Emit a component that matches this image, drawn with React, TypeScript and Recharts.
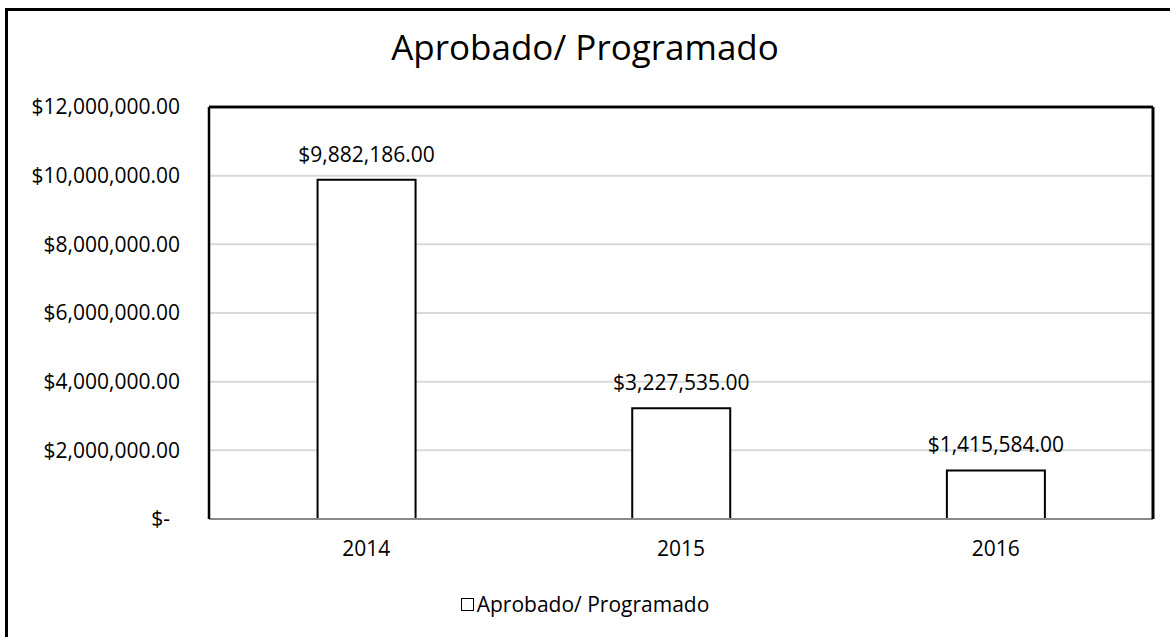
import { BarChart, Bar, Line, XAxis, YAxis, CartesianGrid, Legend, LabelList, ReferenceLine } from "recharts";

const years = ["2014", "2015", "2016"];
const approved = [9882186, 3227535, 1415584];
const yTicks = [0, 2000000, 4000000, 6000000, 8000000, 10000000, 12000000];
const yMax = 12000000;
const seriesName = "Aprobado/ Programado";
const chartTitle = "Aprobado/ Programado";

const data = years.map((year, i) => ({ year, value: approved[i] }));

const FONT = "'Open Sans', sans-serif";
const LABEL_SIZE = 21;

const money = (v: number) =>
  v.toLocaleString("en-US", { style: "currency", currency: "USD", minimumFractionDigits: 2 });

function YTick(props: any) {
  const { x, y, payload } = props;
  const isZero = payload.value === 0;
  return (
    <text
      x={isZero ? x - 10 : x}
      y={y}
      dy="0.355em"
      textAnchor="end"
      fill="#000"
      fontSize={LABEL_SIZE}
      fontFamily={FONT}
    >
      {isZero ? "$-" : money(payload.value)}
    </text>
  );
}

function LegendBox() {
  return (
    <div
      style={{
        display: "flex",
        justifyContent: "center",
        alignItems: "center",
        fontFamily: FONT,
        fontSize: LABEL_SIZE,
        color: "#000",
      }}
    >
      <span
        style={{
          display: "inline-block",
          width: 11,
          height: 11,
          border: "1.5px solid #000",
          background: "#fff",
          marginRight: 3,
        }}
      />
      <span>{seriesName}</span>
    </div>
  );
}

export default function App() {
  return (
    <div
      style={{
        position: "absolute",
        left: 0,
        top: 0,
        width: 1170,
        height: 637,
        overflow: "hidden",
        background: "#fff",
      }}
    >
      {/* outer chart frame, right/bottom edges fall outside the picture */}
      <div
        style={{
          position: "absolute",
          left: 5,
          top: 8,
          width: 1300,
          height: 800,
          border: "3px solid #000",
        }}
      />
      <div
        style={{
          position: "absolute",
          top: 23,
          width: 1170,
          textAlign: "center",
          fontFamily: FONT,
          fontSize: 35,
          color: "#000",
        }}
      >
        {chartTitle}
      </div>
      <div style={{ position: "absolute", left: 0, top: 0 }}>
        <BarChart
          width={1170}
          height={637}
          data={data}
          margin={{ top: 106, right: 16, bottom: 78, left: 0 }}
          barCategoryGap="34.5%"
          style={{ fontFamily: FONT }}
        >
          <CartesianGrid vertical={false} stroke="#d9d9d9" strokeWidth={2} />
          <XAxis
            dataKey="year"
            height={40}
            tickSize={0}
            tickMargin={22}
            axisLine={{ stroke: "#898989", strokeWidth: 2 }}
            tick={{ fill: "#000", fontSize: LABEL_SIZE, fontFamily: FONT }}
          />
          <XAxis
            xAxisId="top"
            dataKey="year"
            orientation="top"
            height={1}
            tick={false}
            tickLine={false}
            axisLine={{ stroke: "#000", strokeWidth: 2.5 }}
          />
          <YAxis
            width={209}
            domain={[0, yMax]}
            ticks={yTicks}
            tickSize={0}
            tickMargin={29}
            axisLine={{ stroke: "#000", strokeWidth: 2.5 }}
            tick={<YTick />}
          />
          <YAxis
            yAxisId="right"
            orientation="right"
            width={1}
            domain={[0, yMax]}
            tick={false}
            tickLine={false}
            axisLine={{ stroke: "#000", strokeWidth: 3 }}
          />
          <ReferenceLine y={yMax} stroke="#000" strokeWidth={2.5} />
          <Legend
            verticalAlign="middle"
            align="center"
            wrapperStyle={{ top: 590, left: 0, width: 1170 }}
            content={() => <LegendBox />}
          />
          <Bar
            dataKey="value"
            name={seriesName}
            fill="#fff"
            stroke="#000"
            strokeWidth={2}
            isAnimationActive={false}
          >
            <LabelList
              dataKey="value"
              position="top"
              offset={18}
              formatter={(v: any) => money(Number(v))}
              fill="#000"
              fontSize={LABEL_SIZE}
              fontFamily={FONT}
            />
          </Bar>
          {/* invisible series so the top and right frame axes get drawn */}
          <Line
            xAxisId="top"
            yAxisId="right"
            dataKey="value"
            stroke="none"
            dot={false}
            activeDot={false}
            legendType="none"
            isAnimationActive={false}
          />
        </BarChart>
      </div>
    </div>
  );
}
